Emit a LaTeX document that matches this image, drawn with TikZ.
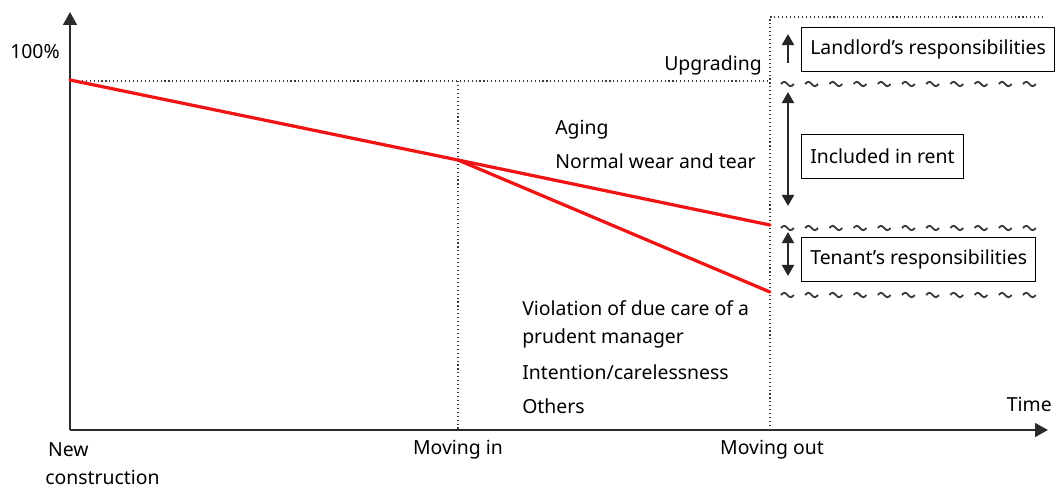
\documentclass[tikz,border=0pt]{standalone}
\usepackage{fontspec}
\setmainfont{Noto Sans}
\usetikzlibrary{arrows.meta,positioning}
\definecolor{dwred}{HTML}{F01414}
\definecolor{dwaxis}{HTML}{2B2B2B}
\definecolor{dwgrey}{HTML}{3A3A3A}
\tikzset{
  axis/.style      = {draw=dwaxis, line width=1.5pt,
                      -{Triangle[length=3.2mm,width=3.4mm]}},
  guide/.style     = {draw=dwgrey, dotted, line width=0.8pt},
  decay/.style     = {draw=dwred, line width=2.3pt, line cap=round},
  span/.style      = {draw=black!85, line width=1.7pt,
                      {Triangle[length=2.8mm,width=3.0mm]}-%
                      {Triangle[length=2.8mm,width=3.0mm]}},
  spanup/.style    = {draw=black!85, line width=1.7pt,
                      -{Triangle[length=2.8mm,width=3.0mm]}},
  share/.style     = {draw, line width=0.7pt, anchor=west, inner xsep=2.2mm,
                      minimum height=1.1cm, font=\fontsize{13.8}{17}\selectfont},
  lbl/.style       = {font=\fontsize{13.8}{19.8}\selectfont, inner sep=0pt},
  tilde/.style     = {draw=dwgrey, line width=1.3pt},
}

\begin{document}
\begin{tikzpicture}[x=0.025cm, y=-0.025cm]
  \useasboundingbox (0,0) rectangle (1055,489);

  % ---------- axes ------------------------------------------------------
  \coordinate (origin) at (70,430);
  \coordinate (ytip)   at (70,12);
  \coordinate (xtip)   at (1048,430);
  \draw[axis] (origin) -- (ytip);
  \draw[axis] (origin) -- (xtip);

  % ---------- key points on the value curve -----------------------------
  \coordinate (full)    at (70,80);
  \coordinate (movein)  at (458,160);
  \coordinate (wearend) at (770,225);
  \coordinate (dmgend)  at (770,292);

  % ---------- dotted guides ---------------------------------------------
  \draw[guide] (70,81) -- (770,81);
  \draw[guide] (458,81) -- (458,430);
  \draw[guide] (770,430) -- (770,17) -- (1043,17);

  % ---------- value curves ----------------------------------------------
  \draw[decay] (full) -- (movein);
  \draw[decay] (movein) -- (wearend);
  \draw[decay] (movein) -- (dmgend);

  % ---------- axis labels -----------------------------------------------
  \node[lbl] (pct)   at (35,52) {100\%};
  \node[lbl, anchor=east] (time) at (1052,404) {Time};
  \node[lbl, anchor=west, align=left] (newc) at (45,464)
    {\hspace*{2pt}New\\construction};
  \node[lbl] (tin)   at (458,450) {Moving in};
  \node[lbl] (tout)  at (772,450) {Moving out};
  \node[lbl, anchor=east] (upg) at (762,65) {Upgrading};

  % ---------- causes ----------------------------------------------------
  \node[lbl, anchor=west] (aging) at (555,130) {Aging};
  \node[lbl, anchor=west] (wear)  at (555,161) {Normal wear and tear};
  \node[lbl, anchor=west, align=left] (care) at (522,324)
    {Violation of due care of a\\prudent manager};
  \node[lbl, anchor=west] (intent) at (522,372) {Intention/carelessness};
  \node[lbl, anchor=west] (other)  at (522,406) {Others};

  % ---------- sharing of costs ------------------------------------------
  \foreach \yy in {84,228,295}{
    \foreach \i in {0,...,10}{
      \draw[tilde] (781+24.2*\i,\yy) sin ++(3.2,-2.2) cos ++(3.2,2.2)
                   sin ++(3.2,2.2) cos ++(3.2,-2.2);
    }
  }
  \node[share] (landlord) at (801,49)  {Landlord’s responsibilities};
  \node[share] (rent)     at (801,156) {Included in rent};
  \node[share] (tenant)   at (801,259) {Tenant’s responsibilities};
  \coordinate (upfoot) at (788,63);
  \draw[spanup] (upfoot) -- (788,34);
  \draw[span] (788,92) -- (788,206);
  \draw[span] (788,232) -- (788,276);

\end{tikzpicture}
\end{document}
